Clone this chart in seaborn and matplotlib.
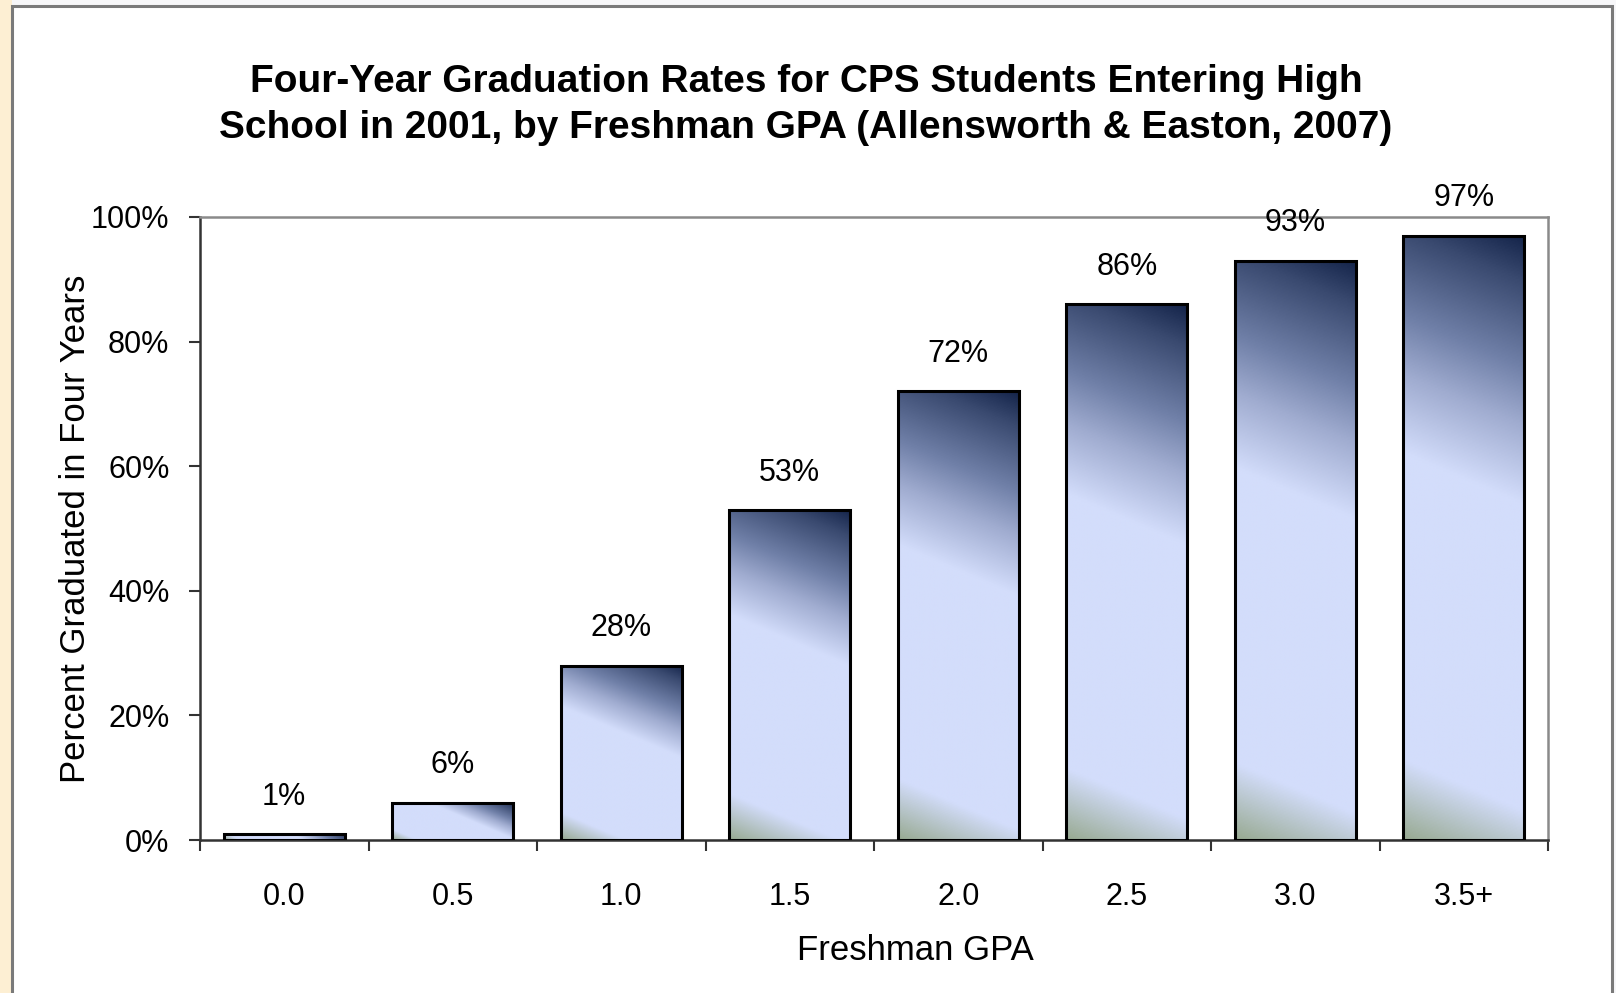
import numpy as np
import matplotlib
matplotlib.use("Agg")
import matplotlib.pyplot as plt
from matplotlib.colors import LinearSegmentedColormap
from matplotlib.patches import Rectangle
import seaborn as sns

# Data
gpa_labels = ["0.0", "0.5", "1.0", "1.5", "2.0", "2.5", "3.0", "3.5+"]
grad_rates = [1, 6, 28, 53, 72, 86, 93, 97]
y_ticks = [0, 20, 40, 60, 80, 100]

title = ("Four-Year Graduation Rates for CPS Students Entering High\n"
         "School in 2001, by Freshman GPA (Allensworth & Easton, 2007)")

sns.set_theme(style="white")
plt.rcParams["font.family"] = ["Liberation Sans", "DejaVu Sans"]

W, H, DPI = 1616, 993, 100
fig = plt.figure(figsize=(W / DPI, H / DPI), dpi=DPI, facecolor="#f7f7f9")

# slide-like frame: cream strip on the left, white panel with grey border
fig.patches.append(Rectangle((0, 0), 12 / W, 1, transform=fig.transFigure,
                             facecolor="#fdefd3", edgecolor="none", zorder=-10))
fig.patches.append(Rectangle((12 / W, -0.01), (1612 - 12) / W, 1.01 - 6 / H,
                             transform=fig.transFigure, facecolor="white",
                             edgecolor="#7a7a7a", linewidth=2.2, zorder=-9))

ax = fig.add_axes([200 / W, 1 - 840 / H, (1548 - 200) / W, (840 - 217) / H])
ax.set_facecolor("none")

bar_width = 0.72
sns.barplot(x=gpa_labels, y=grad_rates, width=bar_width, ax=ax,
            facecolor="none", edgecolor="black", linewidth=2.2,
            saturation=1, zorder=3)

ax.set_ylim(0, 100)
ax.set_xlim(-0.5, len(gpa_labels) - 0.5)

# diagonal gradient, same look as the original Excel fill
cmap = LinearSegmentedColormap.from_list("ocean", [
    (0.00, "#98aa92"),
    (0.12, "#d3ddfb"),
    (0.59, "#d3ddfb"),
    (0.71, "#a0acd0"),
    (0.80, "#7080a8"),
    (0.93, "#3a4a70"),
    (1.00, "#14244a"),
])
ang = np.deg2rad(67)
px_x = (1548 - 200) / len(gpa_labels)
px_y = (840 - 217) / 100.0
for patch in ax.patches:
    x0, y0 = patch.get_x(), patch.get_y()
    bw, bh = patch.get_width(), patch.get_height()
    wpx, hpx = bw * px_x, bh * px_y
    u = np.linspace(0, 1, 200)
    v = np.linspace(0, 1, 400)
    U, V = np.meshgrid(u, v)
    span = wpx * np.cos(ang) + hpx * np.sin(ang)
    T = (U * wpx * np.cos(ang) + V * hpx * np.sin(ang)) / span
    im = ax.imshow(T, cmap=cmap, vmin=0, vmax=1, origin="lower",
                   extent=(x0, x0 + bw, y0, y0 + bh), aspect="auto",
                   interpolation="bilinear", zorder=2)
    im.set_clip_path(patch)
ax.set_aspect("auto")
ax.set_xlim(-0.5, len(gpa_labels) - 0.5)
ax.set_ylim(0, 100)

for i, val in enumerate(grad_rates):
    ax.annotate(f"{val}%", (i, val), xytext=(0, 16), textcoords="offset points",
                ha="center", va="bottom", fontsize=22, color="black")

ax.set_yticks(y_ticks)
ax.set_yticklabels([f"{t}%" for t in y_ticks])
ax.set_xticks(range(len(gpa_labels)))
ax.set_xticklabels(gpa_labels)
ax.set_xticks(np.arange(-0.5, len(gpa_labels)), minor=True)

ax.tick_params(axis="y", which="major", direction="out", length=8, width=1.5,
               color="#333333", pad=14, labelsize=22, labelcolor="black",
               left=True)
ax.tick_params(axis="x", which="major", length=0, pad=30, labelsize=22,
               labelcolor="black")
ax.tick_params(axis="x", which="minor", direction="out", length=8, width=1.5,
               color="#333333", bottom=True)

for side in ["left", "bottom"]:
    ax.spines[side].set_color("#333333")
    ax.spines[side].set_linewidth(1.8)
for side in ["top", "right"]:
    ax.spines[side].set_visible(True)
    ax.spines[side].set_color("#8a8a8a")
    ax.spines[side].set_linewidth(1.8)

ax.set_xlabel("Freshman GPA", fontsize=25, labelpad=16, color="black")
ax.xaxis.label.set_x((915 - 200) / (1548 - 200))
ax.set_ylabel("Percent Graduated in Four Years", fontsize=25, labelpad=-1,
              color="black")

fig.text(806 / W, 1 - 105 / H, title, ha="center", va="center", color="black",
         fontsize=28, fontweight="bold", linespacing=1.38)

fig.savefig("out.png", dpi=DPI, facecolor=fig.get_facecolor())
